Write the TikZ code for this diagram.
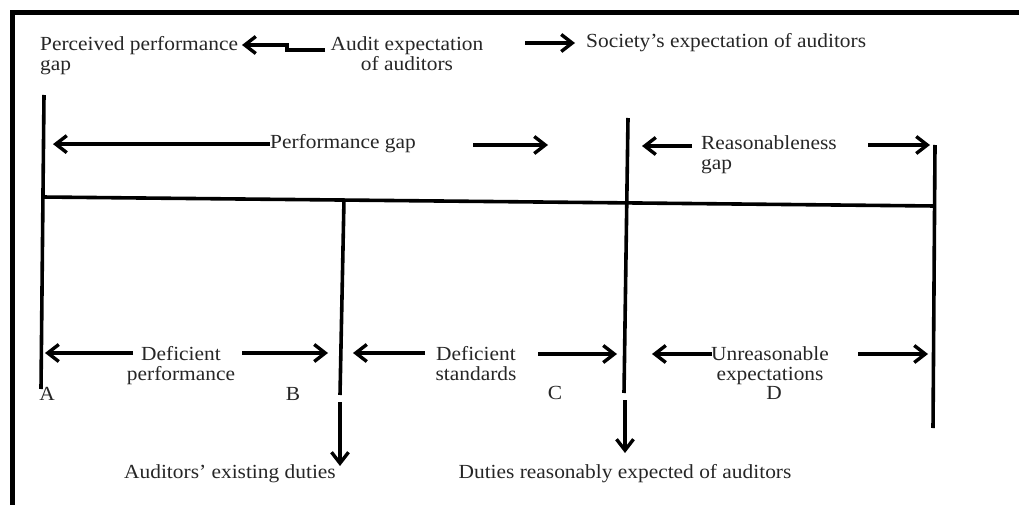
\documentclass[tikz,border=0pt]{standalone}
\usepackage{fontspec}
\setmainfont{Liberation Serif}[FakeStretch=1.07]
\usetikzlibrary{arrows.meta}
\begin{document}
\begin{tikzpicture}[x=1pt,y=-1pt,
  frame/.style={line width=5pt},
  bar/.style={line width=3.6pt},
  arr/.style={line width=3.4pt,-{Straight Barb[length=11pt,width=17pt]}},
  lbl/.style={font=\fontsize{20}{20.5}\selectfont, inner sep=0pt, text=black!85}]
\useasboundingbox (0,0) rectangle (1019,505);
% frame
\draw[frame] (12,505) -- (12,13) -- (1019,13);
% texts
\node[lbl, anchor=north west, align=left] (pp) at (40,36) {Perceived performance\\gap};
\node[lbl, anchor=north, align=center] (ae) at (407,36) {Audit expectation\\of auditors};
\node[lbl, anchor=base west] (se) at (586,48) {Society’s expectation of auditors};
\node[lbl, anchor=base west] (pg) at (270,149) {Performance gap};
\node[lbl, anchor=north west, align=left] (rg) at (701,135) {Reasonableness\\gap};
\node[lbl, anchor=north, align=center] (dp) at (181,346) {Deficient\\performance};
\node[lbl, anchor=north, align=center] (ds) at (476,346) {Deficient\\standards};
\node[lbl, anchor=north, align=center] (ue) at (770,346) {Unreasonable\\expectations};
\node[lbl, anchor=base] (la) at (47,400) {A};
\node[lbl, anchor=base] (lb) at (293,400) {B};
\node[lbl, anchor=base] (lc) at (555,399) {C};
\node[lbl, anchor=base] (ld) at (774,399) {D};
\node[lbl, anchor=base] (aed) at (230,478) {Auditors’ existing duties};
\node[lbl, anchor=base] (dre) at (625,478) {Duties reasonably expected of auditors};
% structure coordinates
\coordinate (Atop) at (44,95);  \coordinate (Abot) at (41,389);
\coordinate (Hl) at (42,197);   \coordinate (Hr) at (935,206);
\coordinate (Btop) at (344,199); \coordinate (Bbot) at (340,395);
\coordinate (Ctop) at (628,118); \coordinate (Cbot) at (624,393);
\coordinate (Dtop) at (935,145); \coordinate (Dbot) at (933,428);
\draw[bar] (Atop) -- (Abot);
\draw[bar] (Hl) -- (Hr);
\draw[bar] (Btop) -- (Bbot);
\draw[bar] (Ctop) -- (Cbot);
\draw[bar] (Dtop) -- (Dbot);
% arrow coordinates
\coordinate (t1) at (325,50); \coordinate (t2) at (287,50); \coordinate (t3) at (287,45); \coordinate (t4) at (242,45);
\coordinate (s1) at (525,43); \coordinate (s2) at (575,43);
\coordinate (pgL) at (53,144);
\coordinate (pgR1) at (473,145); \coordinate (pgR2) at (548,145);
\coordinate (rgL1) at (692,146); \coordinate (rgL2) at (642,146);
\coordinate (rgR1) at (868,145); \coordinate (rgR2) at (930,145);
\coordinate (dpL1) at (133,353); \coordinate (dpL2) at (45,353);
\coordinate (dpR1) at (242,353); \coordinate (dpR2) at (328,353);
\coordinate (dsL1) at (425,353); \coordinate (dsL2) at (353,353);
\coordinate (dsR1) at (538,354); \coordinate (dsR2) at (617,354);
\coordinate (ueL1) at (712,354); \coordinate (ueL2) at (652,354);
\coordinate (ueR1) at (858,354); \coordinate (ueR2) at (928,354);
\coordinate (Bd1) at (340,402); \coordinate (Bd2) at (340,466);
\coordinate (Cd1) at (625,400); \coordinate (Cd2) at (625,453);
% arrows
\draw[arr] (t1) -- (t2) -- (t3) -- (t4);
\draw[arr] (s1) -- (s2);
\draw[arr] (pg.west) -- (pg.west -| pgL);
\draw[arr] (pgR1) -- (pgR2);
\draw[arr] (rgL1) -- (rgL2);
\draw[arr] (rgR1) -- (rgR2);
\draw[arr] (dpL1) -- (dpL2);
\draw[arr] (dpR1) -- (dpR2);
\draw[arr] (dsL1) -- (dsL2);
\draw[arr] (dsR1) -- (dsR2);
\draw[arr] (ueL1) -- (ueL2);
\draw[arr] (ueR1) -- (ueR2);
\draw[arr] (Bd1) -- (Bd2);
\draw[arr] (Cd1) -- (Cd2);
\end{tikzpicture}
\end{document}
